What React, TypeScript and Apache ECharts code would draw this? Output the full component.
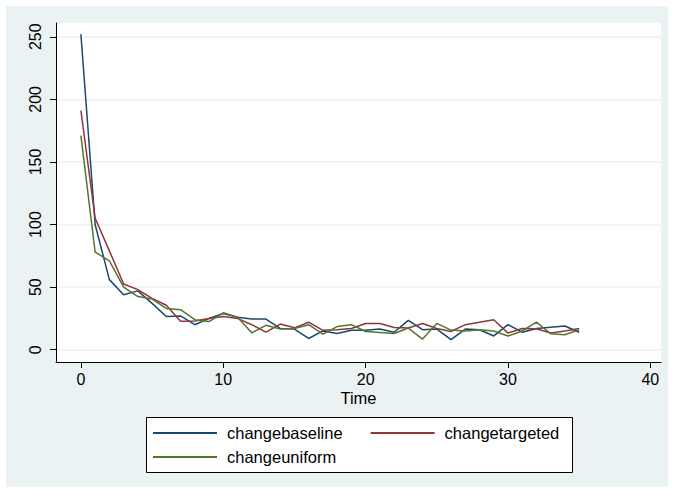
import React, { useEffect, useRef } from "react";
import * as echarts from "echarts";

const time = [0, 1, 2, 3, 4, 5, 6, 7, 8, 9, 10, 11, 12, 13, 14, 15, 16, 17, 18, 19, 20, 21, 22, 23, 24, 25, 26, 27, 28, 29, 30, 31, 32, 33, 34, 35];
const changebaseline = [252, 100, 56, 44, 47, 37, 26.5, 27, 20, 25, 29, 26, 24.5, 24.5, 17, 16.5, 9, 15, 13, 15.5, 15.5, 16.5, 14, 23.5, 16, 16.5, 8, 16.5, 16, 11, 20, 14, 17, 18, 19, 14];
const changetargeted = [191, 105, 79, 52.5, 48, 41, 35.5, 22.8, 23, 25, 26.5, 25, 20, 14, 20.5, 17.5, 22, 15.5, 16, 17, 21, 21, 17.8, 17.3, 21, 17, 14.6, 20, 22, 24, 13.3, 17, 16.8, 13.3, 15, 17];
const changeuniform = [171, 78, 71, 50, 42.5, 40.5, 33, 32, 24, 22.5, 29.5, 26, 13.5, 19.5, 16.5, 17, 20, 12.5, 18.5, 20, 14.6, 13.8, 13, 17.3, 8.5, 21, 15.7, 15, 16, 15, 11, 15, 22, 12.8, 12, 16];
const xTicks = [0, 10, 20, 30, 40];
const yTicks = [0, 50, 100, 150, 200, 250];
const seriesNames = ["changebaseline", "changetargeted", "changeuniform"];
const seriesColors = ["#1a476f", "#90353b", "#55752f"];

const FONT = "'Liberation Sans', Arial, Helvetica, sans-serif";

export default function App() {
  const ref = useRef<HTMLDivElement>(null);
  useEffect(() => {
    document.body.style.margin = "0";
    const chart = echarts.init(ref.current!, undefined, { renderer: "svg" });
    const allValues = [changebaseline, changetargeted, changeuniform];
    const legendText = {
      fontSize: 16.5,
      color: "#000",
      fontFamily: FONT,
      lineHeight: 20,
      padding: [0, 0, 0, 5],
    };
    const baseGraphics: any[] = [
      {
        id: "outerbg",
        type: "rect",
        z: -10,
        shape: { x: 6, y: 6, width: 662, height: 481 },
        style: { fill: "#eaf2f3" },
        silent: true,
      },
      {
        id: "legendbox",
        type: "rect",
        z: 1,
        shape: { x: 146.5, y: 417.5, width: 426, height: 55 },
        style: { fill: "#ffffff", stroke: "#000", lineWidth: 1 },
        silent: true,
      },
    ];
    chart.setOption({
      animation: false,
      backgroundColor: "#ffffff",
      textStyle: { fontFamily: FONT },
      graphic: baseGraphics,
      grid: {
        left: 56,
        right: 13,
        top: 23,
        bottom: 131,
        show: true,
        backgroundColor: "#ffffff",
        borderWidth: 0,
        containLabel: false,
      },
      legend: [
        {
          data: [seriesNames[0], seriesNames[1]],
          left: 153,
          top: 423,
          padding: 0,
          itemWidth: 64,
          itemHeight: 2,
          icon: "rect",
          itemGap: 28,
          z: 5,
          textStyle: legendText,
        },
        {
          data: [seriesNames[2]],
          left: 153,
          top: 447,
          padding: 0,
          itemWidth: 64,
          itemHeight: 2,
          icon: "rect",
          z: 5,
          textStyle: legendText,
        },
      ],
      xAxis: {
        type: "value",
        min: -1.75,
        max: 40.75,
        name: "Time",
        nameLocation: "middle",
        nameGap: 26,
        nameMoveOverlap: false,
        nameTextStyle: { fontSize: 16.5, color: "#000", fontFamily: FONT, lineHeight: 20 },
        axisLine: { show: true, onZero: false, lineStyle: { color: "#000", width: 1 } },
        axisTick: { show: true, length: 6, customValues: xTicks, lineStyle: { color: "#000" } },
        axisLabel: { customValues: xTicks, fontSize: 16, color: "#000", margin: 9, fontFamily: FONT },
        splitLine: { show: false },
      },
      yAxis: {
        type: "value",
        min: -9.8,
        max: 261,
        axisLine: { show: true, onZero: false, lineStyle: { color: "#000", width: 1 } },
        axisTick: { show: true, length: 6, customValues: yTicks, lineStyle: { color: "#000" } },
        axisLabel: { show: false, customValues: yTicks },
        splitLine: { show: true, lineStyle: { color: "#eaf2f3", width: 1.5 } },
      },
      series: seriesNames.map((name, i) => ({
        name,
        type: "line",
        showSymbol: false,
        symbol: "none",
        color: seriesColors[i],
        lineStyle: { color: seriesColors[i], width: 1.5 },
        data: time.map((t, j) => [t, allValues[i][j]]),
      })),
    });
    // rotated y-axis tick labels, placed through the axis scale
    const yLabels = yTicks.map((v) => {
      const py = chart.convertToPixel({ yAxisIndex: 0 }, v) as number;
      return {
        id: "ylab" + v,
        type: "text",
        x: 35.5,
        y: py,
        rotation: Math.PI / 2,
        z: 5,
        silent: true,
        style: {
          text: String(v),
          fontSize: 16,
          fontFamily: FONT,
          fill: "#000",
          align: "center",
          verticalAlign: "middle",
        },
      };
    });
    chart.setOption({ graphic: [...baseGraphics, ...yLabels] });
    return () => chart.dispose();
  }, []);
  return <div ref={ref} style={{ position: "absolute", left: 0, top: 0, width: 674, height: 493 }} />;
}
